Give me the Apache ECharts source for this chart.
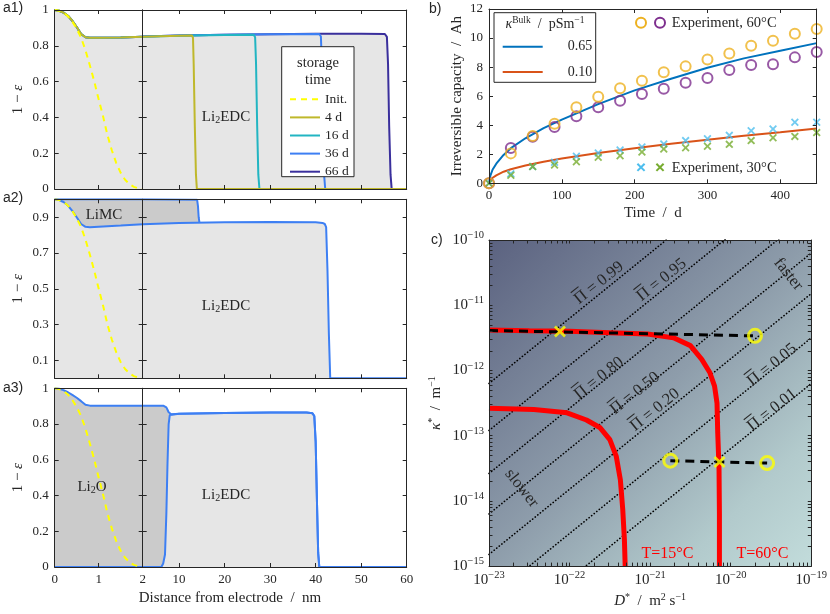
<!DOCTYPE html>
<html><head><meta charset="utf-8">
<script src="https://cdn.jsdelivr.net/npm/echarts@6/dist/echarts.min.js"></script>
<style>html,body{margin:0;padding:0;background:#fff}#c{width:830px;height:614px}</style>
</head><body><div id="c"></div>
<script>
// ---------------- DATA ----------------
// panel a (distance in nm, value 1-eps)
const initX = [0,0.1,0.2,0.3,0.4,0.5,0.6,0.7,0.8,0.9,1.0,1.1,1.2,1.3,1.4,1.5,1.6,1.7,1.8,1.9,2.0];
const initY = [1,0.996,0.985,0.965,0.935,0.895,0.845,0.775,0.69,0.6,0.5,0.405,0.3,0.215,0.145,0.09,0.052,0.027,0.012,0.004,0];

const a1LeftX = [0,0.1,0.2,0.3,0.4,0.5,0.6,0.7,0.8,1.0,1.5,2.0];
const a1LeftY = [1,0.996,0.985,0.968,0.94,0.905,0.866,0.848,0.845,0.845,0.847,0.85];
const d4X  = [2,6,10,12.8,13.05,13.2,13.45,13.7,13.9,60];
const d4Y  = [0.85,0.853,0.856,0.858,0.845,0.7,0.35,0.08,0,0];
const d16X = [2,10,20,26.4,26.7,26.9,27.15,27.4,27.65,60];
const d16Y = [0.851,0.856,0.86,0.862,0.848,0.7,0.35,0.08,0,0];
const d36X = [2,10,20,30,40.8,41.15,41.35,41.6,41.85,42.1,60];
const d36Y = [0.852,0.857,0.862,0.865,0.866,0.852,0.7,0.35,0.08,0,0];
const d66X = [2,10,20,30,40,50,55.2,55.65,55.9,56.15,56.45,56.7,60];
const d66Y = [0.852,0.857,0.862,0.865,0.867,0.868,0.866,0.85,0.7,0.35,0.08,0,0];

const a2LowLeftX  = [0,0.1,0.2,0.3,0.4,0.5,0.6,0.7,0.8,1.0,1.5,2.0];
const a2LowLeftY  = [1,0.996,0.985,0.965,0.935,0.9,0.862,0.846,0.844,0.847,0.853,0.86];
const a2LowRightX = [2,10,20,30,40,41.5,42.0,42.3,42.6,42.9,43.2,60];
const a2LowRightY = [0.86,0.868,0.872,0.873,0.872,0.868,0.862,0.845,0.6,0.25,0,0];
const a2UpLeftX   = [0,2];
const a2UpLeftY   = [1,1];
const a2UpRightX  = [2,13.95,14.15,14.3,14.45];
const a2UpRightY  = [1,0.998,0.96,0.9,0.872];

const a3TopLeftX  = [0,0.1,0.2,0.3,0.4,0.5,0.6,0.7,0.8,1.0,2.0];
const a3TopLeftY  = [1,0.997,0.99,0.978,0.963,0.947,0.928,0.908,0.903,0.902,0.902];
const a3TopRightX = [2,6.6,6.9,7.2,7.45,7.7,7.95,8.3,10,20,30,38,39.3,39.7,40.0,40.3,40.55,40.8,60];
const a3TopRightY = [0.902,0.902,0.9,0.893,0.88,0.866,0.857,0.855,0.857,0.862,0.865,0.864,0.86,0.845,0.7,0.35,0.08,0,0];
const a3InLeftX   = [0,2];
const a3InLeftY   = [0,0];
const a3InRightX  = [2,6.1,6.5,6.9,7.2,7.45,7.7,7.95,8.3,10,20,30,38,39.3,39.7,40.0,40.3,40.55,40.8,60];
const a3InRightY  = [0,0,0.02,0.07,0.3,0.58,0.8,0.85,0.855,0.857,0.862,0.865,0.864,0.86,0.845,0.7,0.35,0.08,0,0];

const aYTicks   = [0,0.2,0.4,0.6,0.8,1];
const a2YTicks  = [0.1,0.3,0.5,0.7,0.9];
const aRightXTicks = [10,20,30,40,50,60];

// panel b
const bModelT = [0,2,5,10,20,30,50,75,100,150,200,250,300,350,400,450];
const b065 = [0,0.55,0.95,1.35,1.95,2.42,3.1,3.8,4.38,5.45,6.4,7.2,7.95,8.6,9.12,9.65];
const b010 = [0,0.22,0.38,0.55,0.8,0.97,1.22,1.48,1.7,2.08,2.42,2.72,3.0,3.27,3.52,3.78];
const expT = [0,30,60,90,120,150,180,210,240,270,300,330,360,390,420,450];
const exp60a = [0,2.06,3.25,4.1,5.23,5.96,6.54,7.06,7.64,8.05,8.53,8.94,9.47,9.82,10.3,10.62];
const exp60b = [0,2.43,3.21,3.88,4.61,5.23,5.69,6.15,6.51,6.93,7.25,7.8,8.14,8.19,8.67,9.04];
const exp30a = [0,0.65,1.15,1.45,1.86,2.09,2.29,2.5,2.7,2.94,3.07,3.3,3.62,3.74,4.2,4.2];
const exp30b = [0,0.55,1.15,1.26,1.49,1.79,1.9,2.16,2.36,2.45,2.55,2.68,2.94,3.14,3.23,3.49];
const bXTicks = [0,100,200,300,400];

// panel c (raw values, plotted on decade axes)
const t60D = [1e-23,3.16e-23,1e-22,3.16e-22,9.3e-22,1.95e-21,3.16e-21,4.37e-21,5.5e-21,6.3e-21,6.76e-21,6.9e-21,7.16e-21,7.24e-21,7.24e-21];
const t60K = [4.17e-12,4.07e-12,3.98e-12,3.8e-12,3.63e-12,3.16e-12,2.4e-12,1.48e-12,9.3e-13,5.75e-13,3.16e-13,1.1e-13,3.16e-14,6.3e-15,1e-15];
const t15D = [1e-23,3.6e-23,9.3e-23,1.62e-22,2.4e-22,3.16e-22,3.8e-22,4.27e-22,4.57e-22,4.79e-22,4.9e-22];
const t15K = [2.63e-13,2.51e-13,2.24e-13,1.74e-13,1.32e-13,8.7e-14,4.8e-14,2.1e-14,7.4e-15,2.57e-15,1e-15];
const dashUpD = [1e-23,2.0e-20];
const dashUpK = [4.1e-12,3.39e-12];
const dashLoD = [1.78e-21,2.83e-20];
const dashLoK = [4.13e-14,3.8e-14];
const circD = [2.0e-20,1.78e-21,2.83e-20];
const circK = [3.39e-12,4.13e-14,3.8e-14];
const crossD = [7.6e-23,7.26e-21];
const crossK = [3.95e-12,3.95e-14];
const piLevels = ['0.99','0.95','0.80','0.50','0.20','0.05','0.01'];
const piLineStart = [[1e-23,6.31e-13],[1e-23,1.20e-13],[1e-23,2.63e-14],[1e-23,6.31e-15],[1e-23,1.51e-15],[1e-23,3.16e-16],[1e-23,6.31e-17]];
const piLineEnd   = [[1e-19,6.31e-9],[1e-19,1.20e-9],[1e-19,2.63e-10],[1e-19,6.31e-11],[1e-19,1.51e-11],[1e-19,3.16e-12],[1e-19,6.31e-13]];
const cXDecades = [-23,-22,-21,-20,-19];
const cYDecades = [-15,-14,-13,-12,-11,-10];
const minorMult = [2,3,4,5,6,7,8,9];

// ---------------- STYLE / BUILD ----------------
const SERIF = '"Liberation Serif","DejaVu Serif","Times New Roman",serif';
const SANS = '"Liberation Sans",Arial,sans-serif';
const AX = '#262626';
const C_INIT = '#ffff00', C4 = '#bfb82b', C16 = '#22b5c2', C36 = '#3d7ff3', C66 = '#3a2f9c';
const LIGHT = '#e6e6e6', DARK = '#cbcbcb';
const grids = [], xAxis = [], yAxis = [], series = [], graphic = [];
const lg = v => Math.log10(v);
const withMinor = dec => dec.concat(...dec.slice(0, -1).map(d => minorMult.map(m => d + lg(m))));

function axisObj(gi, pos, o) {
  const ax = {
    gridIndex: gi, position: pos, type: 'value', min: o.min, max: o.max, z: 5,
    axisLine: {show: true, onZero: false, lineStyle: {color: AX, width: 1}},
    axisTick: {show: true, inside: true, length: o.tickLen || 4, lineStyle: {color: AX, width: 1}},
    axisLabel: {show: !!o.labels, color: AX, fontFamily: SERIF, fontSize: 13, margin: o.margin == null ? 6 : o.margin},
    splitLine: {show: false}, minorTick: {show: false}, minorSplitLine: {show: false}
  };
  if (o.interval != null) ax.interval = o.interval;
  if (o.ticks) { ax.axisTick.customValues = o.tickValues || o.ticks; ax.axisLabel.customValues = o.ticks; }
  if (o.formatter) ax.axisLabel.formatter = o.formatter;
  if (o.rich) ax.axisLabel.rich = o.rich;
  if (o.name && o.labels) {
    ax.name = o.name; ax.nameLocation = 'middle'; ax.nameGap = o.nameGap; ax.nameRotate = o.nameRotate || 0;
    ax.nameTextStyle = {color: AX, fontFamily: SERIF, fontSize: 15, rich: o.nameRich};
  }
  return ax;
}
function addPanel(rect, xo, yo) {
  const gi = grids.length;
  grids.push(Object.assign({show: false}, rect));
  const xi = xAxis.length;
  xAxis.push(axisObj(gi, 'bottom', xo));
  xAxis.push(axisObj(gi, 'top', Object.assign({}, xo, {labels: false, name: null})));
  const yi = yAxis.length;
  yAxis.push(axisObj(gi, 'left', yo));
  yAxis.push(axisObj(gi, 'right', Object.assign({}, yo, {labels: false, name: null})));
  return {xi, yi, gi};
}
function pairs(xs, ys) { return xs.map((x, i) => [x, ys[i]]); }
function lineS(p, name, data, color, width, extra) {
  const s = Object.assign({
    type: 'line', name, xAxisIndex: p.xi, yAxisIndex: p.yi, data, z: 2,
    showSymbol: false, symbol: 'none', smooth: false, silent: true, animation: false,
    lineStyle: {color, width}, itemStyle: {color}, emphasis: {disabled: true}
  }, extra || {});
  series.push(s); return s;
}
function areaS(p, data, color) {
  return lineS(p, '_fill', data, color, 0, {z: 1, areaStyle: {color, opacity: 1}, lineStyle: {width: 0, opacity: 0}});
}

const aRich = {n: {fontFamily: SERIF, fontSize: 15, color: AX}, i: {fontFamily: SERIF, fontSize: 15, fontStyle: 'italic', color: AX}};
const aYname = '{n|1 − }{i|ε}';

// panel a rows
const rows = [{top: 10, h: 179}, {top: 199.3, h: 179}, {top: 388.3, h: 178.7}];
const panelsA = rows.map((r, k) => {
  const yt = k === 1 ? a2YTicks : aYTicks;
  const last = k === 2;
  const L = addPanel({left: 54.7, top: r.top, width: 88, height: r.h},
    {min: 0, max: 2, interval: 1, labels: last},
    {min: 0, max: 1, ticks: yt, labels: true, name: aYname, nameRich: aRich, nameGap: 29, nameRotate: 90});
  const R = addPanel({left: 142.7, top: r.top, width: 264, height: r.h},
    {min: 2, max: 60, ticks: aRightXTicks, labels: last},
    {min: 0, max: 1, ticks: yt, labels: false});
  return {L, R};
});
const dashed = {color: C_INIT, width: 2, type: [6, 5]};

// a1
{
  const {L, R} = panelsA[0];
  areaS(L, pairs(a1LeftX, a1LeftY), LIGHT);
  areaS(R, pairs(d66X, d66Y), LIGHT);
  [['66 d', C66], ['36 d', C36], ['16 d', C16], ['4 d', C4]].forEach(([n, c]) => lineS(L, n, pairs(a1LeftX, a1LeftY), c, 2));
  lineS(R, '66 d', pairs(d66X, d66Y), C66, 2);
  lineS(R, '36 d', pairs(d36X, d36Y), C36, 2);
  lineS(R, '16 d', pairs(d16X, d16Y), C16, 2);
  lineS(R, '4 d', pairs(d4X, d4Y), C4, 2);
  lineS(L, 'Init.', pairs(initX, initY), C_INIT, 2, {lineStyle: dashed});
}
// a2
{
  const {L, R} = panelsA[1];
  areaS(L, pairs(a2UpLeftX, a2UpLeftY), DARK);
  areaS(R, pairs(a2UpRightX, a2UpRightY), DARK);
  areaS(L, pairs(a2LowLeftX, a2LowLeftY), LIGHT);
  areaS(R, pairs(a2LowRightX, a2LowRightY), LIGHT);
  lineS(L, '_a2up', pairs(a2UpLeftX, a2UpLeftY), C36, 2);
  lineS(R, '_a2up', pairs(a2UpRightX, a2UpRightY), C36, 2);
  lineS(L, '_a2low', pairs(a2LowLeftX, a2LowLeftY), C36, 2);
  lineS(R, '_a2low', pairs(a2LowRightX, a2LowRightY), C36, 2);
  lineS(L, '_init2', pairs(initX, initY), C_INIT, 2, {lineStyle: dashed});
}
// a3
{
  const {L, R} = panelsA[2];
  areaS(L, pairs(a3TopLeftX, a3TopLeftY), DARK);
  areaS(R, pairs(a3TopRightX, a3TopRightY), DARK);
  areaS(R, pairs(a3InRightX, a3InRightY), LIGHT);
  lineS(L, '_a3top', pairs(a3TopLeftX, a3TopLeftY), C36, 2);
  lineS(R, '_a3top', pairs(a3TopRightX, a3TopRightY), C36, 2);
  lineS(L, '_a3in', pairs(a3InLeftX, a3InLeftY), C36, 2);
  lineS(R, '_a3in', pairs(a3InRightX, a3InRightY), C36, 2);
  lineS(L, '_init3', pairs(initX, initY), C_INIT, 2, {lineStyle: dashed});
}

// panel b
const XPATH = 'path://M1.6,0L5,3.4L8.4,0L10,1.6L6.6,5L10,8.4L8.4,10L5,6.6L1.6,10L0,8.4L3.4,5L0,1.6Z';
const pB = addPanel({left: 489, top: 9, width: 327.7, height: 174.3},
  {min: 0, max: 450, ticks: bXTicks, labels: true, name: 'Time  /  d', nameGap: 22},
  {min: 0, max: 12, interval: 2, labels: true, name: 'Irreversible capacity  /  Ah', nameGap: 24, nameRotate: 90});
lineS(pB, '0.65', pairs(bModelT, b065), '#0072bd', 2);
lineS(pB, '0.10', pairs(bModelT, b010), '#d95319', 2);
function scat(p, name, data, sym, size, color, hollow, bw) {
  const s = {
    type: 'scatter', name, xAxisIndex: p.xi, yAxisIndex: p.yi, data, z: 3,
    symbol: sym, symbolSize: size, silent: true, animation: false, emphasis: {disabled: true},
    itemStyle: hollow ? {color: 'rgba(0,0,0,0)', borderColor: color, borderWidth: bw || 2} : {color}
  };
  series.push(s); return s;
}
scat(pB, '_e30a', pairs(expT, exp30a), XPATH, 8, '#4dbeee', false);
scat(pB, '_e30b', pairs(expT, exp30b), XPATH, 8, '#77ac30', false);
scat(pB, '_e60b', pairs(expT, exp60b), 'circle', 10, '#7e2f8e', true);
scat(pB, '_e60a', pairs(expT, exp60a), 'circle', 10, '#edb120', true);

// panel c
const supRich = {
  b: {fontFamily: SERIF, fontSize: 15, color: AX},
  s: {fontFamily: SERIF, fontSize: 10.5, color: AX, padding: [0, 0, 9, 0]}
};
const expFmt = v => '{b|10}{s|' + String(Math.round(v)).replace('-', '−') + '}';
const nameRichC = {
  i: {fontFamily: SERIF, fontSize: 15, fontStyle: 'italic', color: AX},
  n: {fontFamily: SERIF, fontSize: 15, color: AX},
  s: {fontFamily: SERIF, fontSize: 10, color: AX, padding: [0, 0, 8, 0]}
};
const pC = addPanel({left: 489, top: 240, width: 327.7, height: 326.7},
  {min: -23, max: -19, ticks: cXDecades, tickValues: withMinor(cXDecades), tickLen: 3.5, labels: true, formatter: expFmt, rich: supRich, margin: 4,
   name: '{i|D}{s|*}{n|  /  m}{s|2}{n| s}{s|−1}', nameRich: nameRichC, nameGap: 26},
  {min: -15, max: -10, ticks: cYDecades, tickValues: withMinor(cYDecades), tickLen: 3.5, labels: true, formatter: expFmt, rich: supRich, margin: 5,
   name: '{i|κ}{s|*}{n|  /  m}{s|−1}', nameRich: nameRichC, nameGap: 44, nameRotate: 90});
grids[pC.gi].show = true;
grids[pC.gi].borderWidth = 0;
grids[pC.gi].backgroundColor = {type: 'linear', x: 0, y: 0, x2: 1, y2: 1, colorStops: [
  {offset: 0, color: '#5b6280'}, {offset: 0.5, color: '#8e9dab'}, {offset: 0.8, color: '#b2cacc'}, {offset: 1, color: '#c2dcdb'}]};
const lgPairs = (xs, ys) => xs.map((x, i) => [lg(x), lg(ys[i])]);
piLevels.forEach((lv, i) => {
  lineS(pC, '_pi' + lv, [[lg(piLineStart[i][0]), lg(piLineStart[i][1])], [lg(piLineEnd[i][0]), lg(piLineEnd[i][1])]], '#000', 1.6,
    {lineStyle: {color: '#000', width: 1.6, type: [0.2, 3.1], cap: 'round'}});
});
lineS(pC, '_t15', lgPairs(t15D, t15K), '#ff0000', 5);
lineS(pC, '_t60', lgPairs(t60D, t60K), '#ff0000', 5);
lineS(pC, '_dashUp', lgPairs(dashUpD, dashUpK), '#000', 3, {lineStyle: {color: '#000', width: 3, type: [9, 6]}});
lineS(pC, '_dashLo', lgPairs(dashLoD, dashLoK), '#000', 3, {lineStyle: {color: '#000', width: 3, type: [9, 6]}});
scat(pC, '_circ', lgPairs(circD, circK), 'circle', 13, '#ffff00', true, 3);
scat(pC, '_cross', lgPairs(crossD, crossK), XPATH, 12, '#ffff00', false);

// ---------------- annotations ----------------
function txt(x, y, text, o) {
  o = o || {};
  graphic.push({type: 'text', x, y, rotation: o.rot || 0, z: o.z || 60, silent: true,
    style: {text, fill: o.color || AX, font: (o.size || 13) + 'px ' + (o.family || SERIF),
      align: o.align || 'center', verticalAlign: o.va || 'middle', rich: o.rich}});
}
const subRich = {
  a: {fontFamily: SERIF, fontSize: 15, color: AX},
  s: {fontFamily: SERIF, fontSize: 10, color: AX, padding: [7, 0, 0, 0]}
};
txt(3, 8, 'a1)', {family: SANS, size: 14, align: 'left'});
txt(3, 198, 'a2)', {family: SANS, size: 14, align: 'left'});
txt(3, 388, 'a3)', {family: SANS, size: 14, align: 'left'});
txt(429, 9, 'b)', {family: SANS, size: 14, align: 'left'});
txt(431, 240, 'c)', {family: SANS, size: 14, align: 'left'});
txt(226, 117, '{a|Li}{s|2}{a|EDC}', {rich: subRich, z: 30});
txt(226, 306, '{a|Li}{s|2}{a|EDC}', {rich: subRich, z: 30});
txt(226, 495, '{a|Li}{s|2}{a|EDC}', {rich: subRich, z: 30});
txt(104, 215, 'LiMC', {size: 15, z: 30});
txt(92, 487, '{a|Li}{s|2}{a|O}', {rich: subRich, z: 30});
txt(230, 598, 'Distance from electrode  /  nm', {size: 15});
// a1 legend box
graphic.push({type: 'rect', z: 50, silent: true, shape: {x: 281.7, y: 46.7, width: 72.3, height: 130},
  style: {fill: '#fff', stroke: AX, lineWidth: 1}});
txt(318, 63, 'storage', {size: 14.5, z: 51});
txt(318, 80, 'time', {size: 14.5, z: 51});
// b legend box
graphic.push({type: 'rect', z: 50, silent: true, shape: {x: 494, y: 12.7, width: 101.7, height: 69.6},
  style: {fill: '#fff', stroke: AX, lineWidth: 1}});
txt(545, 24, '{i|κ}{s|Bulk}{n|  /  pSm}{s|−1}', {z: 51, rich: {
  i: {fontFamily: SERIF, fontSize: 14, fontStyle: 'italic', color: AX},
  n: {fontFamily: SERIF, fontSize: 14, color: AX},
  s: {fontFamily: SERIF, fontSize: 9.5, color: AX, padding: [0, 0, 8, 0]}}});
// b experiment labels
graphic.push({type: 'circle', z: 55, silent: true, shape: {cx: 641, cy: 22.7, r: 5}, style: {fill: 'none', stroke: '#edb120', lineWidth: 2}});
graphic.push({type: 'circle', z: 55, silent: true, shape: {cx: 660, cy: 22.7, r: 5}, style: {fill: 'none', stroke: '#7e2f8e', lineWidth: 2}});
txt(671.7, 23, 'Experiment, 60°C', {size: 14.5, align: 'left'});
function xMark(cx, cy, r, color) {
  graphic.push({type: 'line', z: 55, silent: true, shape: {x1: cx - r, y1: cy - r, x2: cx + r, y2: cy + r}, style: {stroke: color, lineWidth: 2}});
  graphic.push({type: 'line', z: 55, silent: true, shape: {x1: cx - r, y1: cy + r, x2: cx + r, y2: cy - r}, style: {stroke: color, lineWidth: 2}});
}
xMark(641, 167.3, 3.6, '#4dbeee');
xMark(660, 167.3, 3.6, '#77ac30');
txt(671.7, 168.3, 'Experiment, 30°C', {size: 14.5, align: 'left'});
// c labels (Pi with bar)
const ang = Math.atan(65.3 / 81.9);
const mctx = document.createElement('canvas').getContext('2d');
const PIFONT = '16.5px ' + SERIF;
mctx.font = PIFONT;
function piLabel(cx, cy, lv) {
  const s = 'Π = ' + lv;
  const w = mctx.measureText(s).width, wp = mctx.measureText('Π').width;
  graphic.push({type: 'group', x: cx, y: cy, rotation: ang, z: 40, silent: true, children: [
    {type: 'text', x: -w / 2, y: 0, z: 40, style: {text: s, fill: AX, font: PIFONT, align: 'left', verticalAlign: 'middle'}},
    {type: 'line', z: 40, shape: {x1: -w / 2 + 1, y1: -10, x2: -w / 2 + wp - 1, y2: -10}, style: {stroke: AX, lineWidth: 1}}
  ]});
}
const piPos = [[599, 283], [661.7, 280], [599, 378.3], [635, 393.3], [655, 410], [772, 365], [772, 410]];
piLevels.forEach((lv, i) => piLabel(piPos[i][0], piPos[i][1], lv));
txt(788.3, 274.3, 'faster', {size: 16.5, rot: ang - Math.PI / 2, z: 40});
txt(521.7, 488.3, 'slower', {size: 16.5, rot: ang - Math.PI / 2, z: 40});
txt(667.5, 554, 'T=15°C', {size: 16, color: '#ff0000', z: 40});
txt(762.5, 554, 'T=60°C', {size: 16, color: '#ff0000', z: 40});

const option = {
  animation: false,
  textStyle: {fontFamily: SERIF},
  grid: grids, xAxis, yAxis, series,
  legend: [
    {data: ['Init.', '4 d', '16 d', '36 d', '66 d'], orient: 'vertical', left: 289, top: 92.3, padding: 0,
     itemWidth: 30, itemHeight: 14, itemGap: 4.1, selectedMode: false, z: 60,
     itemStyle: {opacity: 0}, textStyle: {fontFamily: SERIF, fontSize: 13.5, color: AX}},
    {data: ['0.65', '0.10'], orient: 'vertical', left: 501.7, top: 39.7, padding: 0,
     itemWidth: 40, itemHeight: 14, itemGap: 11.3, selectedMode: false, z: 60,
     itemStyle: {opacity: 0}, textStyle: {fontFamily: SERIF, fontSize: 14, color: AX, padding: [0, 0, 0, 20]}}
  ],
  graphic: {elements: graphic}
};
const chart = echarts.init(document.getElementById('c'), null, {renderer: 'canvas'});
chart.setOption(option);
</script></body></html>
